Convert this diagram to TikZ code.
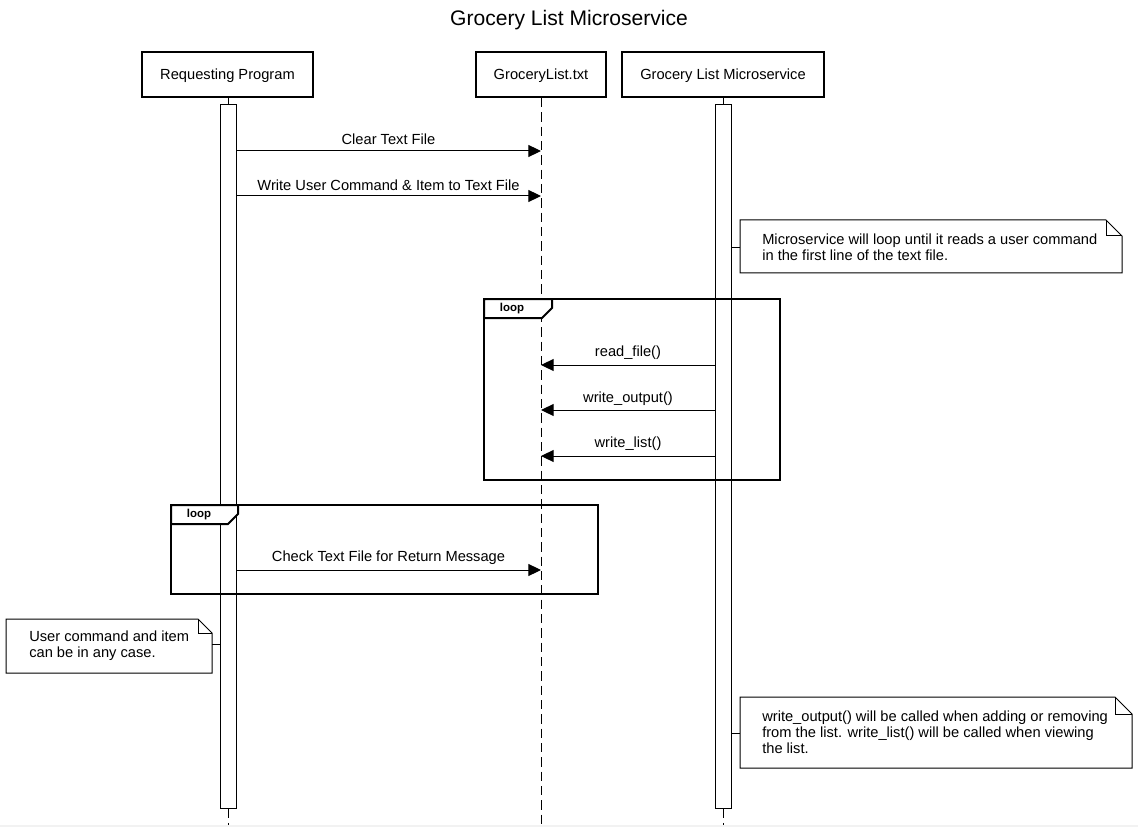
\documentclass[tikz,border=0pt]{standalone}
\usepackage{fontspec}
\setmainfont{Liberation Sans}
\usetikzlibrary{arrows.meta,calc}

\begin{document}
\begin{tikzpicture}[x=0.75pt,y=-0.75pt,
  txt/.style={font=\fontsize{11}{12}\selectfont, inner sep=0pt},
  header/.style={draw, line width=1.5pt, fill=white, inner sep=0pt,
    minimum height=33.75pt, text depth=0pt, font=\fontsize{11}{12}\selectfont},
  actbar/.style={draw, line width=0.75pt, fill=white, inner sep=0pt,
    minimum width=12pt, minimum height=527.25pt},
  lifeline/.style={line width=0.75pt, dash pattern=on 7pt off 3.75pt},
  stub/.style={line width=0.75pt},
  msg/.style={line width=0.75pt, -{Triangle[length=9.5pt,width=9pt]}},
  frame/.style={draw, line width=1.5pt},
  tab/.style={draw, line width=1.5pt, fill=white},
  tablabel/.style={font=\bfseries\fontsize{8.6}{10}\selectfont, inner sep=0pt},
  notebox/.style={draw, line width=0.75pt, fill=white},
  notelink/.style={line width=0.75pt}
]
\useasboundingbox (0,0) rectangle (1138,827);
\fill[black!5] (0,825) rectangle (1138,827);

% title
\node[font=\fontsize{15.8}{18}\selectfont, inner sep=0pt] (title) at (569,20) {Grocery List Microservice};

% lifeline heads
\node[header, minimum width=128.25pt] (req) at (227.5,74.5) {Requesting Program};
\node[header, minimum width=97.5pt] (file) at (541,74.5) {GroceryList.txt};
\node[header, minimum width=151.5pt] (svc) at (723,74.5) {Grocery List Microservice};

% lifeline ends
\coordinate (reqEnd) at (228,825);
\coordinate (fileEnd) at (541,825);
\coordinate (svcEnd) at (723,825);

% activation bars
\node[actbar] (reqBar) at (228,456.5) {};
\node[actbar] (svcBar) at (723,456.5) {};

% lifelines
\draw[lifeline] (file.south) -- (fileEnd);
\draw[stub] (req.south -| reqBar.north) -- (reqBar.north);
\draw[stub] (svc.south -| svcBar.north) -- (svcBar.north);
\draw[lifeline] (reqBar.south) -- (reqEnd);
\draw[lifeline] (svcBar.south) -- (svcEnd);
\node[actbar] at (reqBar) {};
\node[actbar] at (svcBar) {};

% message end points on the file lifeline
\coordinate (m1) at (541,151);
\coordinate (m2) at (541,196);
\coordinate (m3) at (541,365);
\coordinate (m4) at (541,410);
\coordinate (m5) at (541,456);
\coordinate (m6) at (541,570);

% messages
\draw[msg] (reqBar.east |- m1) -- (m1);
\node[txt] (l1) at (388.5,139) {Clear Text File};
\draw[msg] (reqBar.east |- m2) -- (m2);
\node[txt] (l2) at (388.5,185) {Write User Command \& Item to Text File};

\draw[msg] (svcBar.west |- m3) -- (m3);
\node[txt] (l3) at (628,353) {read\_file()};
\draw[msg] (svcBar.west |- m4) -- (m4);
\node[txt] (l4) at (628,399) {write\_output()};
\draw[msg] (svcBar.west |- m5) -- (m5);
\node[txt] (l5) at (628,444) {write\_list()};

\draw[msg] (reqBar.east |- m6) -- (m6);
\node[txt] (l6) at (388.5,558) {Check Text File for Return Message};

% loop frames
\draw[frame] (484,299) rectangle (780,480);
\draw[tab] (484,299) -- (552,299) -- (552,308) -- (542,318) -- (484,318) -- cycle;
\node[tablabel] (loop1) at (512,308.5) {loop};

\draw[frame] (171,505) rectangle (598,594);
\draw[tab] (171,505) -- (238,505) -- (238,514) -- (228,524) -- (171,524) -- cycle;
\node[tablabel] (loop2) at (199,514.5) {loop};

% note 1
\draw[notebox] (740,220) -- (1106,220) -- (1122,236) -- (1122,273) -- (740,273) -- cycle;
\draw[line width=0.75pt] (1106,220) -- (1106,236) -- (1122,236);
\node[txt, anchor=west, align=left] (n1) at (762,247)
  {Microservice will loop until it reads a user command\\in the first line of the text file.};
\coordinate (n1l) at (740,248);
\draw[notelink] (svcBar.east |- n1l) -- (n1l);

% note 2
\draw[notebox] (6,619) -- (198,619) -- (212,633) -- (212,673) -- (6,673) -- cycle;
\draw[line width=0.75pt] (198,619) -- (198,633) -- (212,633);
\node[txt, anchor=west, align=left] (n2) at (29,646)
  {User command and item\\can be in any case.};
\coordinate (n2r) at (212,644);
\draw[notelink] (n2r) -- (reqBar.west |- n2r);

% note 3
\draw[notebox] (740,697) -- (1115,697) -- (1132,714) -- (1132,768) -- (740,768) -- cycle;
\draw[line width=0.75pt] (1115,697) -- (1115,714) -- (1132,714);
\node[txt, anchor=west, align=left] (n3) at (762,732)
  {write\_output() will be called when adding or removing\\from the list. write\_list() will be called when viewing\\the list.};
\coordinate (n3l) at (740,733);
\draw[notelink] (svcBar.east |- n3l) -- (n3l);
\end{tikzpicture}
\end{document}
